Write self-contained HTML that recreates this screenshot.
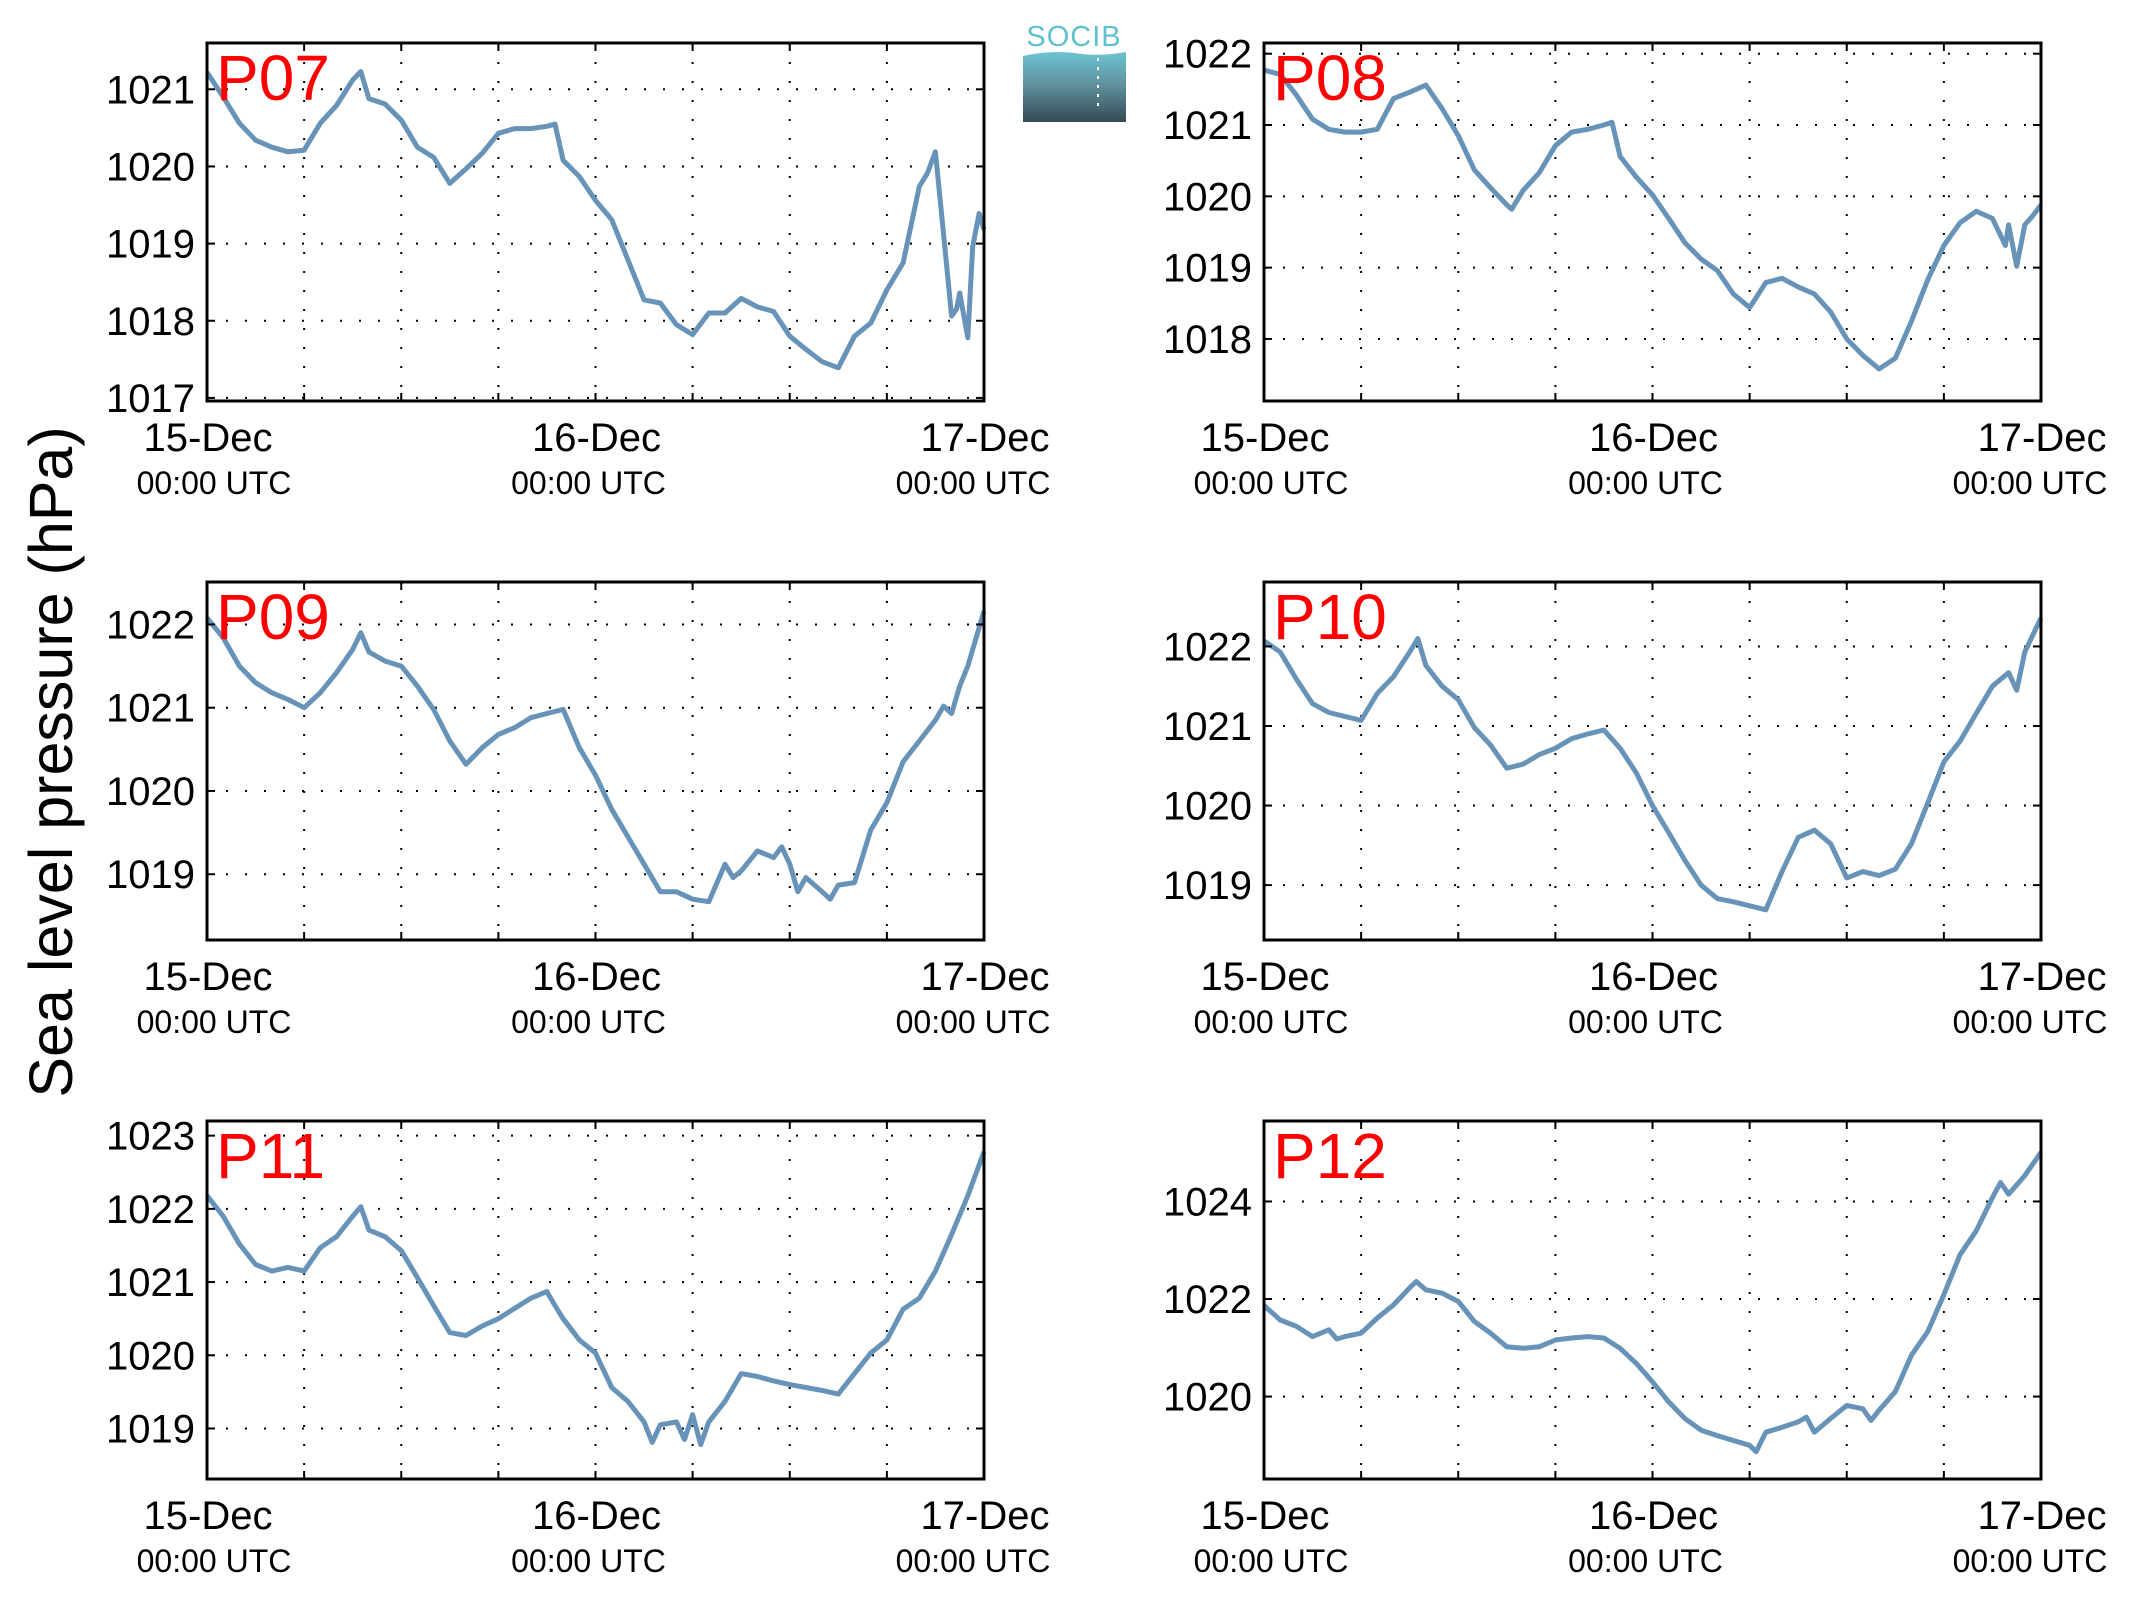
<!DOCTYPE html>
<html><head><meta charset="utf-8">
<style>
html,body{margin:0;padding:0;background:#fff;}
svg{display:block;font-family:"Liberation Sans",Arial,sans-serif;}
</style></head>
<body>
<svg id="fig" width="2133" height="1608" viewBox="0 0 2133 1608" xmlns="http://www.w3.org/2000/svg">
<defs>
<linearGradient id="lg" x1="0" y1="0" x2="0" y2="1">
<stop offset="0" stop-color="#6cc3d2"/><stop offset="0.5" stop-color="#5f8d9a"/><stop offset="1" stop-color="#344a56"/>
</linearGradient>
</defs>
<g>
<text x="1074" y="46" text-anchor="middle" font-size="29" fill="#5fc0d0" letter-spacing="1">SOCIB</text>
<path d="M1023,56 Q1050,50 1075,53 Q1098,57 1126,52 L1126,122 L1023,122 Z" fill="url(#lg)"/>
<line x1="1098" y1="58" x2="1098" y2="110" stroke="#fff" stroke-width="2" stroke-dasharray="3 6"/>
</g>
<text transform="translate(72,762) rotate(-90)" text-anchor="middle" font-size="61" fill="#000">Sea level pressure (hPa)</text>
</svg>
<script>
// ---- data (hours since 15-Dec 00:00 UTC, hPa) ----
const names = ["P07","P08","P09","P10","P11","P12"];
const t07 = [0,1,2,3,4,5,6,7,8,9,9.5,10,11,12,13,14,15,16,17,18,19,20,21,21.5,22,23,24,25,26,27,28,29,30,31,32,33,34,35,36,37,38,39,40,41,42,43,44,44.5,45,45.5,46,46.3,46.5,47,47.3,47.7,48];
const v07 = [1021.22,1020.9,1020.56,1020.34,1020.25,1020.19,1020.21,1020.56,1020.79,1021.12,1021.23,1020.88,1020.81,1020.6,1020.25,1020.12,1019.78,1019.97,1020.17,1020.43,1020.49,1020.49,1020.52,1020.55,1020.08,1019.87,1019.56,1019.31,1018.79,1018.27,1018.23,1017.95,1017.82,1018.1,1018.1,1018.29,1018.18,1018.12,1017.8,1017.63,1017.47,1017.39,1017.8,1017.97,1018.4,1018.75,1019.74,1019.91,1020.19,1019.13,1018.06,1018.15,1018.36,1017.78,1018.96,1019.39,1019.18];
const t08 = [0,1,2,3,4,5,6,7,8,9,10,11,12,13,14,15,15.3,16,17,18,19,20,21,21.5,22,23,24,25,26,27,28,29,30,31,32,33,34,35,36,37,38,39,40,41,42,43,44,45,45.8,46,46.5,47,47.5,48];
const v08 = [1021.77,1021.71,1021.42,1021.08,1020.94,1020.9,1020.9,1020.94,1021.37,1021.46,1021.56,1021.23,1020.85,1020.37,1020.12,1019.88,1019.82,1020.08,1020.33,1020.71,1020.9,1020.94,1021.0,1021.04,1020.56,1020.27,1020.02,1019.69,1019.35,1019.12,1018.96,1018.63,1018.44,1018.79,1018.85,1018.73,1018.63,1018.38,1018.0,1017.77,1017.58,1017.73,1018.25,1018.83,1019.31,1019.63,1019.79,1019.69,1019.31,1019.6,1019.02,1019.6,1019.73,1019.88];
const t09 = [0,1,2,3,4,5,6,7,8,9,9.5,10,11,12,13,14,15,16,17,18,19,20,21,22,23,24,25,26,27,28,29,30,31,32,32.5,33,34,35,35.5,36,36.5,37,38,38.5,39,40,41,42,43,44,45,45.5,46,46.5,47,48];
const v09 = [1022.08,1021.84,1021.5,1021.3,1021.18,1021.1,1021.0,1021.18,1021.42,1021.7,1021.9,1021.67,1021.56,1021.5,1021.26,1020.98,1020.6,1020.32,1020.52,1020.68,1020.76,1020.88,1020.93,1020.98,1020.52,1020.19,1019.78,1019.45,1019.12,1018.79,1018.79,1018.7,1018.67,1019.12,1018.96,1019.04,1019.28,1019.2,1019.33,1019.12,1018.79,1018.96,1018.79,1018.7,1018.87,1018.9,1019.53,1019.86,1020.35,1020.6,1020.85,1021.02,1020.93,1021.26,1021.5,1022.16];
const t10 = [0,1,2,3,4,5,6,7,8,9,9.5,10,11,12,13,14,15,16,17,18,19,20,21,22,23,24,25,26,27,28,29,30,31,32,33,34,35,36,37,38,39,40,41,42,43,44,45,46,46.5,47,48];
const v10 = [1022.07,1021.93,1021.59,1021.28,1021.17,1021.12,1021.07,1021.41,1021.62,1021.93,1022.1,1021.76,1021.5,1021.33,1020.98,1020.76,1020.47,1020.52,1020.64,1020.72,1020.84,1020.9,1020.95,1020.72,1020.41,1020.0,1019.66,1019.31,1019.0,1018.83,1018.79,1018.74,1018.69,1019.17,1019.6,1019.69,1019.52,1019.09,1019.17,1019.12,1019.2,1019.52,1020.03,1020.55,1020.81,1021.16,1021.5,1021.67,1021.45,1021.93,1022.36];
const t11 = [0,1,2,3,4,5,6,7,8,9,9.5,10,11,12,13,14,15,16,17,18,19,20,21,21.5,22,23,24,25,26,27,27.5,28,29,29.5,30,30.5,31,32,33,34,35,36,37,38,39,40,41,42,43,44,45,46,47,48];
const v11 = [1022.18,1021.9,1021.52,1021.24,1021.15,1021.2,1021.15,1021.47,1021.62,1021.9,1022.03,1021.71,1021.62,1021.43,1021.06,1020.68,1020.31,1020.27,1020.4,1020.5,1020.64,1020.78,1020.87,1020.68,1020.5,1020.21,1020.03,1019.56,1019.37,1019.09,1018.81,1019.05,1019.09,1018.85,1019.19,1018.78,1019.09,1019.37,1019.75,1019.71,1019.65,1019.6,1019.56,1019.52,1019.47,1019.75,1020.03,1020.21,1020.63,1020.78,1021.15,1021.65,1022.18,1022.78];
const t12 = [0,1,2,3,4,4.5,5,6,7,8,9,9.4,10,11,12,13,14,15,16,17,18,19,20,21,22,23,24,25,26,27,28,29,30,30.4,31,32,33,33.5,34,35,36,37,37.5,38,39,40,41,42,43,44,45,45.5,46,47,48];
const v12 = [1021.87,1021.57,1021.44,1021.23,1021.37,1021.18,1021.23,1021.3,1021.61,1021.88,1022.23,1022.36,1022.19,1022.12,1021.95,1021.54,1021.3,1021.02,1020.99,1021.02,1021.16,1021.2,1021.23,1021.2,1020.99,1020.68,1020.3,1019.89,1019.55,1019.31,1019.2,1019.1,1019.0,1018.87,1019.27,1019.37,1019.48,1019.58,1019.27,1019.55,1019.82,1019.75,1019.51,1019.72,1020.1,1020.85,1021.33,1022.09,1022.91,1023.4,1024.08,1024.39,1024.15,1024.53,1025.01];
const times = [t07,t08,t09,t10,t11,t12];
const values = [v07,v08,v09,v10,v11,v12];
const yMins = [1016.96,1017.13,1018.21,1018.31,1018.31,1018.31];
const yMaxs = [1021.6,1022.15,1022.51,1022.81,1023.2,1025.65];
const yTickLists = [[1017,1018,1019,1020,1021],[1018,1019,1020,1021,1022],[1019,1020,1021,1022],[1019,1020,1021,1022],[1019,1020,1021,1022,1023],[1020,1022,1024]];
const xTickHours = [0,6,12,18,24,30,36,42,48];
const xLabelHours = [0,24,48];
const xLabels = ["15-Dec","16-Dec","17-Dec"];

// ---- layout ----
const NS = "http://www.w3.org/2000/svg";
const svg = document.getElementById("fig");
const colX = [207,1264], rowY = [43,582,1121], W = 777, H = 358;
const subOff = [7,-7,-11];
function mk(tag, attrs, parent){
  const e = document.createElementNS(NS, tag);
  for (const k in attrs) e.setAttribute(k, attrs[k]);
  (parent||svg).appendChild(e); return e;
}
for (let p = 0; p < 6; p++) {
  const x0 = colX[p%2], y0 = rowY[Math.floor(p/2)];
  const xs = h => x0 + h/48*W;
  const ys = v => y0 + H - (v - yMins[p])/(yMaxs[p]-yMins[p])*H;
  const g = mk("g", {});
  
  
  xTickHours.slice(1,-1).forEach(h => {
    const l = mk("line",{x1:xs(h),x2:xs(h),y1:y0,y2:y0+H,stroke:"#000","stroke-width":2,"stroke-dasharray":"2 17"},g);
    
    
  });
  yTickLists[p].forEach(v => {
    const l = mk("line",{x1:x0,x2:x0+W,y1:ys(v),y2:ys(v),stroke:"#000","stroke-width":2,"stroke-dasharray":"2 17"},g);
    
    
  });
  let d = "";
  times[p].forEach((h,i) => { d += (i?"L":"M") + xs(h).toFixed(1) + "," + ys(values[p][i]).toFixed(1); });
  const path = mk("path",{d:d,fill:"none",stroke:"#6893b8","stroke-width":5,"stroke-linejoin":"round"},g);
  
  
  const fr = mk("rect",{x:x0,y:y0,width:W,height:H,fill:"none",stroke:"#000","stroke-width":3},g);
  
  
  xTickHours.forEach(h => {
    const a = mk("line",{x1:xs(h),x2:xs(h),y1:y0+H,y2:y0+H-8,stroke:"#000","stroke-width":2},g);
    
    
    const b = mk("line",{x1:xs(h),x2:xs(h),y1:y0,y2:y0+8,stroke:"#000","stroke-width":2},g);
    
    
  });
  yTickLists[p].forEach(v => {
    const a = mk("line",{x1:x0,x2:x0+8,y1:ys(v),y2:ys(v),stroke:"#000","stroke-width":2},g);
    
    
    const b = mk("line",{x1:x0+W-8,x2:x0+W,y1:ys(v),y2:ys(v),stroke:"#000","stroke-width":2},g);
    
    
    const t = mk("text",{x:x0-12,y:ys(v)+14,"text-anchor":"end","font-size":40,fill:"#000"},g);
    t.textContent = v;
    
    
  });
  xLabelHours.forEach((h,i) => {
    const t = mk("text",{x:xs(h)+1,y:y0+H+50,"text-anchor":"middle","font-size":40,fill:"#000"},g);
    t.textContent = xLabels[i];
    
    
    const u = mk("text",{x:xs(h)+subOff[i],y:y0+H+93,"text-anchor":"middle","font-size":32,fill:"#000"},g);
    u.textContent = "00:00 UTC";
    
    
  });
  const lab = mk("text",{x:x0+9,y:y0+57,"font-size":64,fill:"#ff0000"},g);
  lab.textContent = names[p];
  
  
}
</script>
</body></html>
